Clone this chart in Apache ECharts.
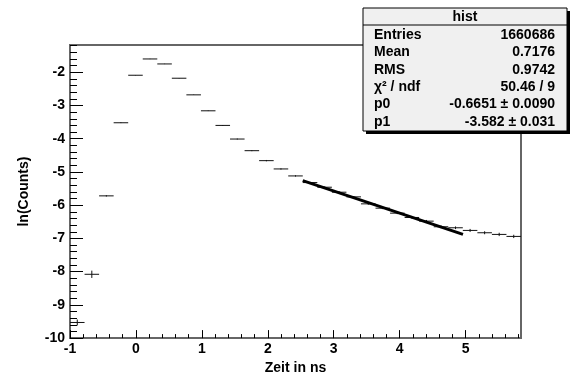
<!DOCTYPE html>
<html><head><meta charset="utf-8">
<script src="https://cdn.jsdelivr.net/npm/echarts@6/dist/echarts.min.js"></script>
<style>html,body{margin:0;padding:0;background:#fff}#c{width:576px;height:380px}</style>
</head><body><div id="c"></div>
<script>
// Histogram definition
const xMin = -1;
const binWidth = 0.22065;
// ln(Counts) per bin (31 bins)
const values = [-9.53,-8.08,-5.72,-3.52,-2.09,-1.60,-1.75,-2.18,-2.68,-3.16,-3.60,-4.01,-4.36,-4.66,-4.91,-5.12,-5.32,-5.46,-5.61,-5.75,-5.96,-6.09,-6.24,-6.37,-6.48,-6.65,-6.68,-6.76,-6.83,-6.88,-6.94];
const errors = [0.09,0.11,0.02,0.01,0.005,0.005,0.005,0.005,0.005,0.008,0.01,0.015,0.015,0.02,0.02,0.02,0.02,0.02,0.025,0.025,0.03,0.03,0.03,0.035,0.035,0.04,0.04,0.045,0.045,0.05,0.05];
// fit line end points
const fitX = [2.53, 4.96];
const fitY = [-5.26, -6.88];
// axis ticks
const xTicks = [-1,0,1,2,3,4,5];
const yTicks = [-10,-9,-8,-7,-6,-5,-4,-3,-2];
const xRange = [-1, 5.84];
const yRange = [-10, -1.18];
// stats box
const statsTitle = 'hist';
const statsLabels = ['Entries','Mean','RMS','χ² / ndf','p0','p1'];
const statsValues = ['1660686','0.7176','0.9742','50.46 / 9','-0.6651 ± 0.0090','-3.582 ± 0.031'];

const xMinor = [], yMinor = [];
for (let i = 0; i <= 34; i++) { const v = Math.round((xRange[0] + i*0.2)*10)/10; if (v <= xRange[1]) xMinor.push(v); }
for (let i = 0; i <= 44; i++) { const v = Math.round((yRange[0] + i*0.2)*10)/10; if (v <= yRange[1]) yMinor.push(v); }

const histData = values.map((v,i)=>[xMin + i*binWidth, xMin + (i+1)*binWidth, v, errors[i]]);
const FONT = '"Liberation Sans", Arial, Helvetica, sans-serif';

const chart = echarts.init(document.getElementById('c'), null, {renderer:'canvas'});
const axisLineStyle = {color:'#666', width:2};
const option = {
  animation:false,
  grid:{left:70, right:55, top:45, bottom:33, show:true, borderColor:'#666', borderWidth:2, backgroundColor:'transparent'},
  xAxis:[
    {type:'value', min:xRange[0], max:xRange[1], position:'bottom',
     axisLine:{show:true, onZero:false, lineStyle:axisLineStyle},
     axisTick:{show:true, inside:true, length:8, customValues:xTicks, lineStyle:{color:'#000'}},
     axisLabel:{show:true, customValues:xTicks, margin:4, color:'#000', fontFamily:FONT, fontWeight:'bold', fontSize:14},
     splitLine:{show:false},
     name:'Zeit in ns', nameLocation:'middle', nameGap:19,
     nameTextStyle:{color:'#000', fontFamily:FONT, fontWeight:'bold', fontSize:14}},
    {type:'value', min:xRange[0], max:xRange[1], position:'bottom',
     axisLine:{show:false, onZero:false},
     axisTick:{show:true, inside:true, length:4, customValues:xMinor, lineStyle:{color:'#000'}},
     axisLabel:{show:false}, splitLine:{show:false}}
  ],
  yAxis:[
    {type:'value', min:yRange[0], max:yRange[1], position:'left',
     axisLine:{show:true, onZero:false, lineStyle:axisLineStyle},
     axisTick:{show:true, inside:true, length:13, customValues:yTicks, lineStyle:{color:'#000'}},
     axisLabel:{show:true, customValues:yTicks, margin:5, color:'#000', fontFamily:FONT, fontWeight:'bold', fontSize:14},
     splitLine:{show:false},
     name:'ln(Counts)', nameLocation:'middle', nameGap:39, nameRotate:90,
     nameTextStyle:{color:'#000', fontFamily:FONT, fontWeight:'bold', fontSize:14}},
    {type:'value', min:yRange[0], max:yRange[1], position:'left',
     axisLine:{show:false, onZero:false},
     axisTick:{show:true, inside:true, length:7, customValues:yMinor, lineStyle:{color:'#000'}},
     axisLabel:{show:false}, splitLine:{show:false}}
  ],
  series:[
    {type:'custom', xAxisIndex:0, yAxisIndex:0, data:histData, clip:true,
     renderItem:function(params, api){
       const lo = api.value(0), hi = api.value(1), y = api.value(2), e = api.value(3);
       const a = api.coord([lo,y]), b = api.coord([hi,y]);
       const c = (lo+hi)/2;
       const t = api.coord([c,y+e]), u = api.coord([c,y-e]);
       return {type:'group', children:[
         {type:'line', shape:{x1:a[0],y1:a[1],x2:b[0],y2:b[1]}, style:{stroke:'#111', lineWidth:1}},
         {type:'line', shape:{x1:t[0],y1:t[1],x2:u[0],y2:u[1]}, style:{stroke:'#111', lineWidth:1}}
       ]};
     }},
    {type:'line', xAxisIndex:0, yAxisIndex:0, data:fitX.map((x,i)=>[x,fitY[i]]),
     showSymbol:false, symbol:'none', lineStyle:{color:'#000', width:3}, z:5}
  ],
  graphic:[]
};

// stats box
const bx = 363, by = 8, bw = 204, bh = 123;
const g = [];
g.push({type:'rect', shape:{x:bx+3, y:by+3, width:bw, height:bh}, style:{fill:'#000'}, z:100});
g.push({type:'rect', shape:{x:bx, y:by, width:bw, height:bh}, style:{fill:'#f0f0f0', stroke:'#000', lineWidth:1}, z:101});
g.push({type:'line', shape:{x1:bx, y1:by+17, x2:bx+bw, y2:by+17}, style:{stroke:'#000', lineWidth:1}, z:102});
g.push({type:'text', x:bx+bw/2, y:by+9, style:{text:statsTitle, font:'bold 14px '+FONT, fill:'#000', align:'center', verticalAlign:'middle'}, z:103});
statsLabels.forEach((lab,i)=>{
  const yy = by + 27 + i*17.4;
  g.push({type:'text', x:bx+11, y:yy, style:{text:lab, font:'bold 14px '+FONT, fill:'#000', align:'left', verticalAlign:'middle'}, z:103});
  g.push({type:'text', x:bx+192, y:yy, style:{text:statsValues[i], font:'bold 14px '+FONT, fill:'#000', align:'right', verticalAlign:'middle'}, z:103});
});
option.graphic = g;
chart.setOption(option);
</script></body></html>
